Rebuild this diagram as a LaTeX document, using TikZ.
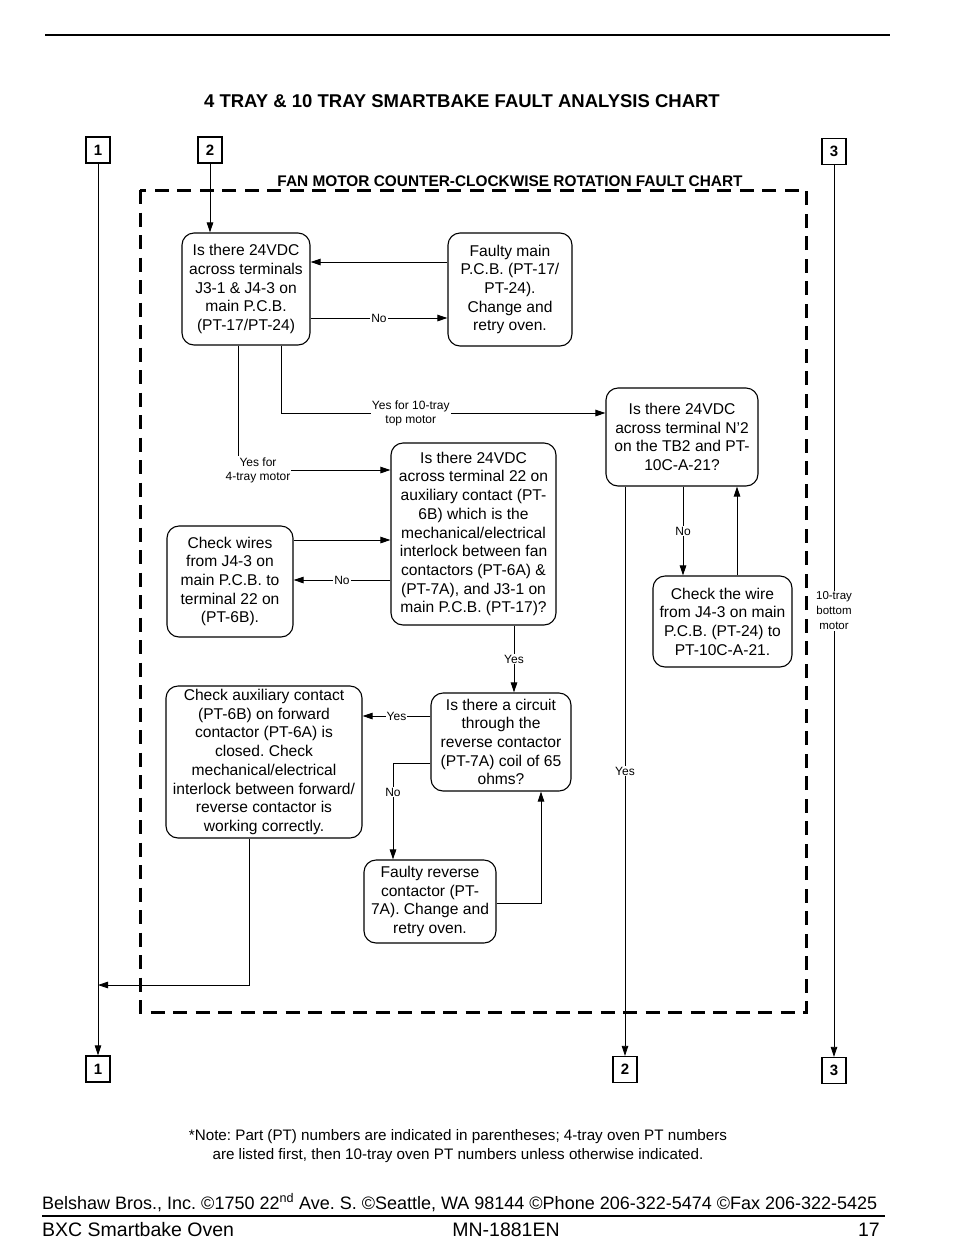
\documentclass[tikz,border=0pt]{standalone}
\usepackage{fontspec}
\setmainfont{Liberation Sans}
\usetikzlibrary{arrows.meta,calc}
\begin{document}
\frenchspacing
\begin{tikzpicture}[x=1pt,y=-1pt,
 box/.style={draw, line width=1.1pt, rounded corners=12pt, align=center, inner sep=1pt, font=\fontsize{15.6}{18.7}\selectfont},
 num/.style={draw, line width=1.2pt, minimum width=24pt, minimum height=26pt, inner sep=0pt, font=\fontsize{15}{15}\selectfont\bfseries},
 conn/.style={line width=0.8pt},
 arr/.style={conn, -{Triangle[length=10pt,width=6.5pt]}},
 lab/.style={fill=white, inner sep=1pt, font=\fontsize{12}{14}\selectfont, align=center},
 frame/.style={line width=3pt, dash pattern=on 14pt off 8.5pt}]
\useasboundingbox (0,0) rectangle (954,1259);
% top rule
\draw[line width=1.2pt] (45,35) -- (890,35);
\node[font=\fontsize{18.5}{20}\selectfont\bfseries] (title) at (462,101) {4 TRAY \& 10 TRAY SMARTBAKE FAULT ANALYSIS CHART};
% dashed frame
\draw[frame] (140,190) rectangle (806,1012);
\node[anchor=south, font=\fontsize{15.4}{16}\selectfont\bfseries, inner sep=1pt] (sub) at (510,188) {FAN MOTOR COUNTER-CLOCKWISE ROTATION FAULT CHART};
% numbered boxes
\node[num] (t1) at (98,150) {1};
\node[num] (t2) at (210,150) {2};
\node[num] (t3) at (834,151.5) {3};
\node[num] (b1) at (98,1069) {1};
\node[num] (b2) at (625,1069.5) {2};
\node[num] (b3) at (834,1070.5) {3};
% boxes
\node[box, minimum width=128pt, minimum height=112pt] (A) at (246,289) {Is there 24VDC\\across terminals\\J3-1 \& J4-3 on\\main P.C.B.\\(PT-17/PT-24)};
\node[box, minimum width=124pt, minimum height=113pt] (B) at (510,289.5) {Faulty main\\P.C.B. (PT-17/\\PT-24).\\Change and\\retry oven.};
\node[box, minimum width=165pt, minimum height=182pt] (C) at (473.5,534) {Is there 24VDC\\across terminal 22 on\\auxiliary contact (PT-\\6B) which is the\\mechanical/electrical\\interlock between fan\\contactors (PT-6A) \&\\(PT-7A), and J3-1 on\\main P.C.B. (PT-17)?};
\node[box, minimum width=152pt, minimum height=98pt] (D) at (682,437) {Is there 24VDC\\across terminal N'2\\on the TB2 and PT-\\10C-A-21?};
\node[box, minimum width=126pt, minimum height=111pt] (E) at (230,581.5) {Check wires\\from J4-3 on\\main P.C.B. to\\terminal 22 on\\(PT-6B).};
\node[box, minimum width=139pt, minimum height=91pt] (F) at (722.5,621.5) {Check the wire\\from J4-3 on main\\P.C.B. (PT-24) to\\PT-10C-A-21.};
\node[box, minimum width=140pt, minimum height=98pt] (G) at (501,742) {Is there a circuit\\through the\\reverse contactor\\(PT-7A) coil of 65\\ohms?};
\node[box, minimum width=196pt, minimum height=152pt] (H) at (264,762) {Check auxiliary contact\\(PT-6B) on forward\\contactor (PT-6A) is\\closed. Check\\mechanical/electrical\\interlock between forward/\\reverse contactor is\\working correctly.};
\node[box, minimum width=132pt, minimum height=83pt] (I) at (430,901.5) {Faulty reverse\\contactor (PT-\\7A). Change and\\retry oven.};
% helper coordinates
\coordinate (h262) at (0,262);
\coordinate (h318) at (0,318);
\coordinate (h470) at (0,470);
\coordinate (h413) at (0,413);
\coordinate (h540) at (0,540);
\coordinate (h580) at (0,580);
\coordinate (h716) at (0,716);
\coordinate (h763) at (0,763);
\coordinate (h903) at (0,903);
\coordinate (h985) at (0,985);
\coordinate (v238) at (238,0);
\coordinate (v281) at (281,0);
\coordinate (v683) at (683,0);
\coordinate (v737) at (737,0);
\coordinate (v514) at (514,0);
\coordinate (v393) at (393,0);
\coordinate (v541) at (541,0);
\coordinate (v249) at (249,0);
% connectors
\draw[arr] (t1.south) -- (b1.north);
\draw[arr] (t2.south) -- (t2.south |- A.north);
\draw[arr] (t3.south) -- node[lab, font=\fontsize{11.5}{15}\selectfont, pos=0.5]{10-tray\\bottom\\motor} (b3.north);
\draw[arr] (B.west |- h262) -- (A.east |- h262);
\draw[arr] (A.east |- h318) -- node[lab]{No} (B.west |- h318);
\draw[arr] (A.south -| v238) |- node[lab, xshift=20pt]{Yes for\\4-tray motor} (C.west |- h470);
\draw[arr] (A.south -| v281) |- node[lab, pos=0.7]{Yes for 10-tray\\top motor} (D.west |- h413);
\draw[arr] (E.east |- h540) -- (C.west |- h540);
\draw[arr] (C.west |- h580) -- node[lab]{No} (E.east |- h580);
\draw[arr] (D.south -| v683) -- node[lab]{No} (F.north -| v683);
\draw[arr] (F.north -| v737) -- (D.south -| v737);
\draw[arr] (D.south -| b2) -- node[lab]{Yes} (b2.north);
\draw[arr] (C.south -| v514) -- node[lab]{Yes} (G.north -| v514);
\draw[arr] (G.west |- h716) -- node[lab]{Yes} (H.east |- h716);
\draw[arr] (G.west |- h763) -| node[lab, pos=0.65]{No} (I.north -| v393);
\draw[arr] (I.east |- h903) -| (G.south -| v541);
\draw[arr] (H.south -| v249) |- (b1.north |- h985);
% notes
\node[align=center, font=\fontsize{15.2}{19}\selectfont] (note) at (458,1146) {*Note: Part (PT) numbers are indicated in parentheses; 4-tray oven PT numbers\\are listed first, then 10-tray oven PT numbers unless otherwise indicated.};
\node[anchor=base west, font=\fontsize{18}{20}\selectfont, inner sep=0pt] (addr) at (42,1209) {Belshaw Bros., Inc. ©1750 22\textsuperscript{nd} Ave. S. ©Seattle, WA 98144 ©Phone 206-322-5474 ©Fax 206-322-5425};
\draw[line width=1.5pt] (42,1216) -- (885,1216);
\node[anchor=base west, font=\fontsize{19.5}{20}\selectfont, inner sep=0pt] (f1) at (42,1236) {BXC Smartbake Oven};
\node[anchor=base, font=\fontsize{19.5}{20}\selectfont, inner sep=0pt] (f2) at (506,1236) {MN-1881EN};
\node[anchor=base east, font=\fontsize{19.5}{20}\selectfont, inner sep=0pt] (f3) at (880,1236) {17};
\end{tikzpicture}
\end{document}
